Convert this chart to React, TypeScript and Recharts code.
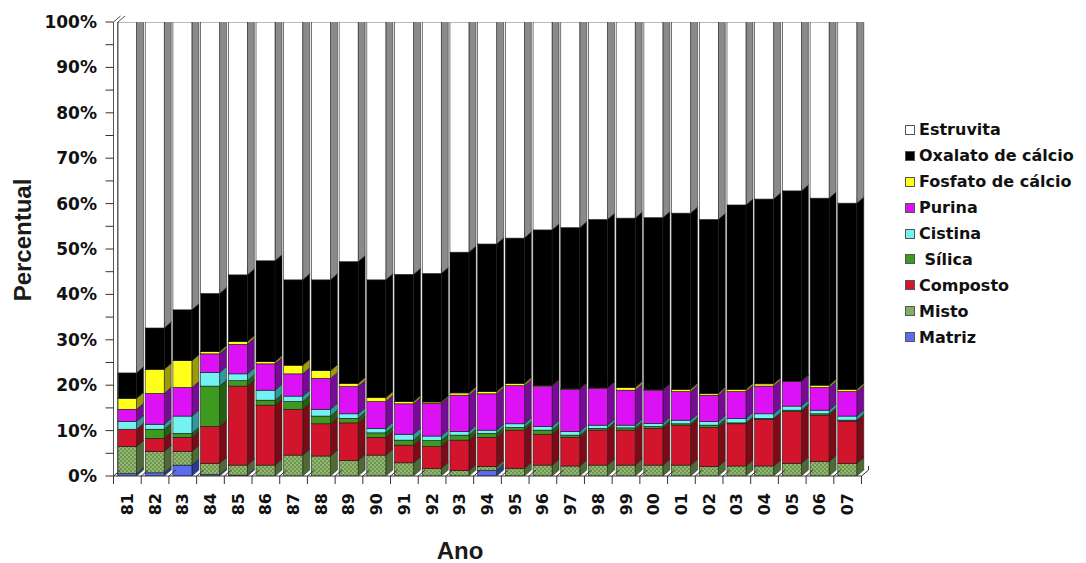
import { BarChart, Bar, XAxis, YAxis } from 'recharts';

const anos = ['81', '82', '83', '84', '85', '86', '87', '88', '89', '90', '91', '92', '93', '94', '95', '96', '97', '98', '99', '00', '01', '02', '03', '04', '05', '06', '07'];

// percentual de cada tipo de cálculo por ano (soma 100)
const matriz = [0.5, 0.7, 2.4, 0.3, 0.2, 0, 0, 0, 0, 0, 0, 0, 0, 1.2, 0, 0, 0, 0, 0, 0, 0, 0, 0, 0, 0, 0, 0];
const misto = [6.0, 4.7, 3.0, 2.5, 2.2, 2.4, 4.6, 4.4, 3.4, 4.6, 2.9, 1.7, 1.2, 0.9, 1.7, 2.4, 2.2, 2.4, 2.4, 2.4, 2.4, 2.1, 2.2, 2.2, 2.8, 3.2, 2.8];
const composto = [3.8, 2.9, 3.1, 8.1, 17.4, 13.2, 10.1, 7.1, 8.3, 3.9, 3.9, 4.8, 6.7, 6.4, 8.4, 6.8, 6.3, 7.7, 7.7, 8.1, 8.8, 8.6, 9.3, 10.3, 11.4, 10.2, 9.3];
const silica = [0, 2.0, 0.9, 8.9, 1.2, 1.1, 1.7, 1.7, 1.0, 1.0, 1.1, 1.3, 1.1, 0.9, 0.6, 0.9, 0.5, 0.4, 0.5, 0.4, 0.3, 0.5, 0.2, 0.2, 0.3, 0.3, 0.2];
const cistina = [1.7, 1.1, 3.8, 3.0, 1.5, 2.2, 1.2, 1.5, 1.0, 1.0, 1.3, 1.0, 0.8, 0.7, 0.8, 0.8, 0.8, 0.7, 0.6, 0.7, 0.8, 0.8, 1.0, 1.0, 0.9, 0.8, 0.9];
const purina = [2.7, 6.8, 6.3, 4.1, 6.5, 5.8, 4.9, 6.8, 6.0, 5.9, 6.7, 7.2, 8.0, 8.0, 8.4, 8.8, 9.3, 8.1, 7.7, 7.3, 6.3, 5.8, 5.9, 6.1, 5.4, 5.0, 5.4];
const fosfato = [2.4, 5.3, 5.9, 0.5, 0.6, 0.5, 1.9, 1.7, 0.7, 0.9, 0.5, 0.3, 0.5, 0.5, 0.5, 0.2, 0.1, 0.1, 0.6, 0.1, 0.5, 0.4, 0.5, 0.5, 0.1, 0.5, 0.5];
const oxalato = [5.6, 9.1, 11.2, 12.8, 14.7, 22.2, 18.8, 20.0, 26.8, 25.9, 28.0, 28.3, 31.0, 32.5, 32.0, 34.3, 35.5, 37.1, 37.3, 37.9, 38.8, 38.3, 40.6, 40.7, 41.9, 41.2, 41.0];
const estruvita = [77.3, 67.4, 63.4, 59.8, 55.7, 52.6, 56.8, 56.8, 52.8, 56.8, 55.6, 55.4, 50.7, 48.9, 47.6, 45.8, 45.3, 43.5, 43.2, 43.1, 42.1, 43.5, 40.3, 39.0, 37.2, 38.8, 39.9];

const yTicks = [0, 5, 10, 15, 20, 25, 30, 35, 40, 45, 50, 55, 60, 65, 70, 75, 80, 85, 90, 95, 100];

const series = [
  { key: 'matriz', name: 'Matriz', values: matriz, front: '#5b6cf0', side: '#2c3896', top: '#8c98ff' },
  { key: 'misto', name: 'Misto', values: misto, front: 'url(#xadrez)', side: '#4d6a34', top: '#a9c98c', swatch: '#86ad66' },
  { key: 'composto', name: 'Composto', values: composto, front: '#d2142c', side: '#7c0b17', top: '#e4545f' },
  { key: 'silica', name: '\u00a0Sílica', values: silica, front: '#3d9a1e', side: '#22600f', top: '#6cc04a' },
  { key: 'cistina', name: 'Cistina', values: cistina, front: '#72f2f2', side: '#2f9a9e', top: '#b0ffff' },
  { key: 'purina', name: 'Purina', values: purina, front: '#dd11f5', side: '#780a98', top: '#ef80ff' },
  { key: 'fosfato', name: 'Fosfato de cálcio', values: fosfato, front: '#ffff1a', side: '#9a9a0a', top: '#ffff8c' },
  { key: 'oxalato', name: 'Oxalato de cálcio', values: oxalato, front: '#000000', side: '#000000', top: '#1a1a1a' },
  { key: 'estruvita', name: 'Estruvita', values: estruvita, front: '#ffffff', side: '#8a8a8a', top: '#dcdcdc' },
];

const data = anos.map((ano, i) => {
  const row: Record<string, string | number> = { ano };
  series.forEach((s) => {
    row[s.key] = s.values[i];
  });
  return row;
});

const W = 1086;
const H = 563;
const PLOT_LEFT = 113.5;
const PLOT_RIGHT = 861.5;
const PLOT_TOP = 22;
const PLOT_BOTTOM = 476;
const BAND = (PLOT_RIGHT - PLOT_LEFT) / anos.length;
const DX = 7;
const DY = 6;
const FONT = '"DejaVu Sans", Verdana, sans-serif';

function Box3D(props: any) {
  const { x, y, width, height, front, side, top } = props;
  if (!height || height <= 0) return <g />;
  const r = x + width;
  const b = y + height;
  return (
    <g>
      <polygon
        points={`${r},${y} ${r + DX},${y - DY} ${r + DX},${b - DY} ${r},${b}`}
        fill={side}
        stroke="#1a1a1a"
        strokeWidth={0.5}
      />
      <polygon
        points={`${x},${y} ${x + DX},${y - DY} ${r + DX},${y - DY} ${r},${y}`}
        fill={top}
        stroke="#1a1a1a"
        strokeWidth={0.5}
      />
      <rect x={x} y={y} width={width} height={height} fill={front} stroke="#1a1a1a" strokeWidth={0.6} />
    </g>
  );
}

function PercentTick({ y, payload }: any) {
  const v = payload.value as number;
  return (
    <g>
      <line x1={PLOT_LEFT - 8} x2={PLOT_LEFT} y1={y} y2={y} stroke="#333" strokeWidth={1} />
      {v % 10 === 0 && (
        <text
          x={97}
          y={y}
          textAnchor="end"
          dominantBaseline="central"
          fontFamily={FONT}
          fontWeight="bold"
          fontSize={17}
          fill="#111"
        >
          {v}%
        </text>
      )}
      {v === 0 && (
        <g stroke="#555" strokeWidth={1} fill="none">
          <line x1={PLOT_LEFT} y1={PLOT_BOTTOM} x2={PLOT_LEFT} y2={PLOT_TOP} />
          <line x1={PLOT_LEFT + 4.5} y1={PLOT_BOTTOM - 2} x2={PLOT_LEFT + 4.5} y2={PLOT_TOP} />
          <line x1={PLOT_LEFT} y1={PLOT_TOP} x2={PLOT_LEFT + DX} y2={PLOT_TOP - DY} />
          <line x1={PLOT_LEFT + 4.5} y1={PLOT_TOP} x2={PLOT_LEFT + 4.5 + DX} y2={PLOT_TOP - DY} />
        </g>
      )}
    </g>
  );
}

function AnoTick({ x, payload, index }: any) {
  const left = x - BAND / 2;
  const right = x + BAND / 2;
  const ty = PLOT_BOTTOM + 17;
  return (
    <g>
      <line x1={left} y1={PLOT_BOTTOM} x2={left} y2={PLOT_BOTTOM + 8} stroke="#333" />
      <line x1={left} y1={PLOT_BOTTOM} x2={left + DX} y2={PLOT_BOTTOM - DY} stroke="#333" />
      {index === anos.length - 1 && (
        <g stroke="#333">
          <line x1={right} y1={PLOT_BOTTOM} x2={right} y2={PLOT_BOTTOM + 8} />
          <line x1={right} y1={PLOT_BOTTOM} x2={right + DX} y2={PLOT_BOTTOM - DY} />
          <line x1={right + DX} y1={PLOT_BOTTOM - DY} x2={right + DX} y2={PLOT_BOTTOM - DY - 4} />
        </g>
      )}
      <text
        x={x}
        y={ty}
        transform={`rotate(-90 ${x} ${ty})`}
        textAnchor="end"
        dominantBaseline="central"
        fontFamily={FONT}
        fontWeight="bold"
        fontSize={16}
        fill="#111"
      >
        {payload.value}
      </text>
    </g>
  );
}

function Legenda() {
  const items = [...series].reverse();
  return (
    <div style={{ position: 'absolute', left: 905, top: 117, fontFamily: FONT, fontWeight: 'bold', fontSize: 16, color: '#111' }}>
      {items.map((s) => (
        <div key={s.key} style={{ display: 'flex', alignItems: 'center', height: 25.9, whiteSpace: 'pre' }}>
          <span
            style={{
              display: 'inline-block',
              width: 8,
              height: 8,
              marginRight: 4,
              background: s.swatch ?? s.front,
              border: '1px solid #555',
            }}
          />
          <span>{s.name}</span>
        </div>
      ))}
    </div>
  );
}

export default function App() {
  return (
    <div style={{ position: 'absolute', left: 0, top: 0, width: W, height: H, background: '#fff' }}>
      <BarChart
        width={W}
        height={H}
        data={data}
        margin={{ top: PLOT_TOP, right: W - PLOT_RIGHT, bottom: 0, left: 0 }}
        barSize={19}
      >
        <defs>
          <pattern id="xadrez" width="4" height="4" patternUnits="userSpaceOnUse">
            <rect width="4" height="4" fill="#93b872" />
            <rect width="2" height="2" fill="#6f9650" />
            <rect x="2" y="2" width="2" height="2" fill="#6f9650" />
          </pattern>
        </defs>
        <XAxis
          dataKey="ano"
          interval={0}
          height={H - PLOT_BOTTOM}
          axisLine={{ stroke: '#333' }}
          tickLine={false}
          tick={<AnoTick />}
          label={() => (
            <text x={460} y={550} textAnchor="middle" dominantBaseline="central" fontFamily='"Liberation Sans", Arial, sans-serif' fontWeight="bold" fontSize={24} fill="#1a1a1a">
              Ano
            </text>
          )}
        />
        <YAxis
          width={PLOT_LEFT}
          domain={[0, 100]}
          ticks={yTicks}
          interval={0}
          allowDataOverflow
          axisLine={false}
          tickLine={false}
          tick={<PercentTick />}
          label={() => (
            <text
              x={22}
              y={240}
              transform="rotate(-90 22 240)"
              textAnchor="middle"
              dominantBaseline="central"
              fontFamily='"Liberation Sans", Arial, sans-serif'
              fontWeight="bold"
              fontSize={24}
              fill="#1a1a1a"
            >
              Percentual
            </text>
          )}
        />
        {series.map((s) => (
          <Bar
            key={s.key}
            dataKey={s.key}
            name={s.name}
            stackId="a"
            fill={s.front}
            isAnimationActive={false}
            shape={(p: any) => <Box3D {...p} front={s.front} side={s.side} top={s.top} />}
          />
        ))}
      </BarChart>
      <Legenda />
    </div>
  );
}
